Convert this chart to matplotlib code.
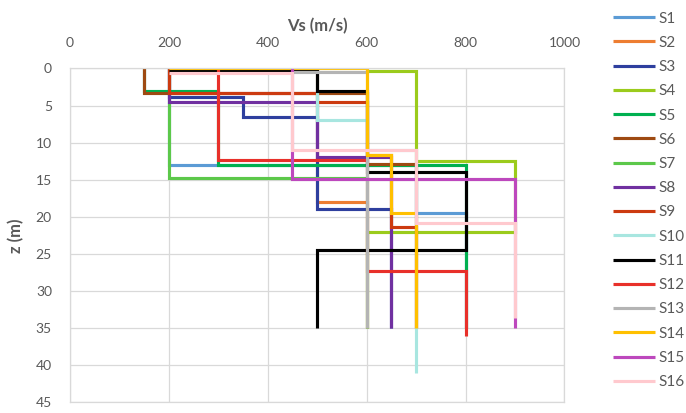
import matplotlib
matplotlib.use("Agg")
import matplotlib.pyplot as plt

plt.rcParams["font.family"] = ["Lato", "DejaVu Sans"]

# shear-wave velocity Vs (m/s) and depth z (m) at the corners of each stepped profile
vs_s1 = [200, 200, 700, 700, 800, 800]
z_s1 = [0, 13, 13, 19.5, 19.5, 35]
vs_s2 = [500, 500, 600, 600]
z_s2 = [0, 18, 18, 35]
vs_s3 = [200, 200, 350, 350, 500, 500, 650, 650]
z_s3 = [0, 3.9, 3.9, 6.5, 6.5, 19, 19, 35]
vs_s4 = [600, 600, 700, 700, 900, 900, 600, 600]
z_s4 = [0, 0.4, 0.4, 12.5, 12.5, 22, 22, 35]
vs_s5 = [150, 150, 300, 300, 800, 800]
z_s5 = [0, 3, 3, 13, 13, 35]
vs_s6 = [150, 150, 600, 600, 700, 700]
z_s6 = [0, 3.3, 3.3, 12.9, 12.9, 35]
vs_s7 = [200, 200, 600, 600]
z_s7 = [0, 14.8, 14.8, 35]
vs_s8 = [200, 200, 500, 500, 650, 650]
z_s8 = [0, 4.5, 4.5, 11.9, 11.9, 35]
vs_s9 = [200, 200, 500, 500, 600, 600, 650, 650, 700, 700]
z_s9 = [0, 3.3, 3.3, 4.5, 4.5, 11.7, 11.7, 21.4, 21.4, 35]
vs_s10 = [500, 500, 600, 600, 700, 700]
z_s10 = [0, 7, 7, 11, 11, 41]
vs_s11 = [200, 500, 500, 600, 600, 800, 800, 500, 500]
z_s11 = [0.35, 0.35, 3, 3, 14, 14, 24.5, 24.5, 35]
vs_s12 = [300, 300, 600, 600, 800, 800]
z_s12 = [0, 12.4, 12.4, 27.3, 27.3, 36]
vs_s13 = [450, 600, 600]
z_s13 = [0.45, 0.45, 35]
vs_s14 = [200, 600, 600, 650, 650, 700, 700]
z_s14 = [0, 0, 11.7, 11.7, 19.5, 19.5, 35]
vs_s15 = [450, 450, 900, 900]
z_s15 = [0, 14.9, 14.9, 35]
vs_s16 = [200, 450, 450, 700, 700, 900, 900]
z_s16 = [0.55, 0.55, 11, 11, 20.8, 20.8, 33.6]

profiles = [
    ("S1", vs_s1, z_s1, "#5B9BD5"),
    ("S2", vs_s2, z_s2, "#ED7D31"),
    ("S3", vs_s3, z_s3, "#2E3F9E"),
    ("S4", vs_s4, z_s4, "#9BCB1C"),
    ("S5", vs_s5, z_s5, "#00B050"),
    ("S6", vs_s6, z_s6, "#9E4A12"),
    ("S7", vs_s7, z_s7, "#5CC84A"),
    ("S8", vs_s8, z_s8, "#7030A0"),
    ("S9", vs_s9, z_s9, "#CC3A10"),
    ("S10", vs_s10, z_s10, "#A8E6E0"),
    ("S11", vs_s11, z_s11, "#000000"),
    ("S12", vs_s12, z_s12, "#E8302A"),
    ("S13", vs_s13, z_s13, "#B4B4B4"),
    ("S14", vs_s14, z_s14, "#FFC000"),
    ("S15", vs_s15, z_s15, "#BD48BD"),
    ("S16", vs_s16, z_s16, "#FFC9CE"),
]

fig = plt.figure(figsize=(6.86, 4.13), dpi=100)
ax = fig.add_axes([0.1020, 0.0257, 0.7208, 0.8085])

for name, vs, z, col in profiles:
    ax.plot(vs, z, color=col, lw=2.25, label=name,
            solid_capstyle="butt", solid_joinstyle="miter")

ax.set_xlim(0, 1000)
ax.set_ylim(45, 0)
ax.set_xticks(range(0, 1001, 200))
ax.set_yticks(range(0, 46, 5))
ax.xaxis.tick_top()
ax.xaxis.set_label_position("top")
ax.tick_params(length=0, labelsize=10, labelcolor="#595959")
ax.tick_params(axis="x", pad=14)
ax.tick_params(axis="y", pad=13)
ax.grid(True, color="#D9D9D9", lw=0.9)
ax.set_axisbelow(True)
for sp in ax.spines.values():
    sp.set_color("#D9D9D9")
    sp.set_linewidth(0.9)

ax.set_xlabel("Vs (m/s)", fontsize=12, fontweight="bold", color="#595959", labelpad=4)
ax.set_ylabel("z (m)", fontsize=12, fontweight="bold", color="#595959", labelpad=8)

fig.legend(loc="upper left", bbox_to_anchor=(0.893, 0.972), frameon=False,
           fontsize=11, handlelength=2.77, handletextpad=0.2, labelspacing=0.67,
           borderpad=0, borderaxespad=0, labelcolor="#595959")

fig.savefig("out.png", dpi=100)
